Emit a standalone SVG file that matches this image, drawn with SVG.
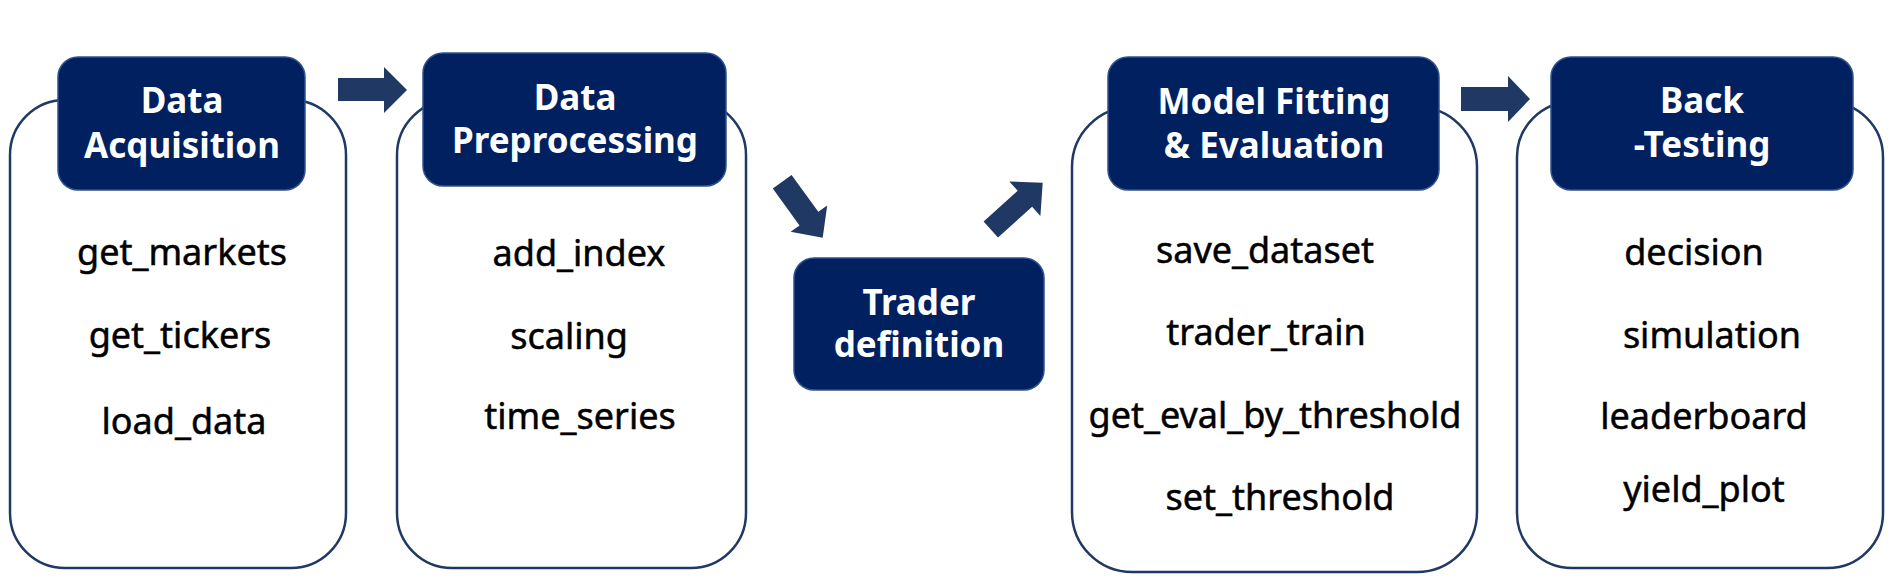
<svg xmlns="http://www.w3.org/2000/svg" width="1895" height="578" viewBox="0 0 1895 578">
<style>
.outer{fill:#ffffff;stroke:#1f3864;stroke-width:2.5}
.head{fill:#002060;stroke:#2f528f;stroke-width:1.5}
.ht{font-family:"Noto Sans","Liberation Sans",sans-serif;font-weight:bold;font-size:35px;fill:#ffffff;text-anchor:middle}
.bt{font-family:"Noto Sans","Liberation Sans",sans-serif;font-size:36px;fill:#000000;stroke:#000000;stroke-width:0.5;text-anchor:middle}
.arrow{fill:#203864}
</style>
<rect width="1895" height="578" fill="#ffffff"/>
<g id="connectors">
<polygon class="arrow" points="338,78 384,78 384,67 407,90 384,113 384,101 338,101"/>
<polygon class="arrow" points="791.6,174.9 818.3,211.8 827.2,205.4 822.7,237.7 790.6,231.8 799.5,225.4 772.8,188.5"/>
<polygon class="arrow" points="983.6,221.5 1017.7,190.7 1009.3,181.5 1042.7,182.7 1040.4,215.9 1032.1,206.7 998,237.5"/>
<polygon class="arrow" points="1461,87 1508,87 1508,76 1530,99 1508,122 1508,111 1461,111"/>
</g>
<g id="data-acquisition">
<rect class="outer" x="10" y="100" width="336" height="468" rx="55"/>
<rect class="head" x="58" y="57" width="247" height="133" rx="20"/>
<text class="ht" x="182" y="113">Data</text>
<text class="ht" x="182" y="158">Acquisition</text>
<text class="bt" x="182" y="265">get_markets</text>
<text class="bt" x="180" y="348">get_tickers</text>
<text class="bt" x="184" y="434">load_data</text>
</g>
<g id="data-preprocessing">
<rect class="outer" x="397" y="100" width="349" height="468" rx="55"/>
<rect class="head" x="423" y="53" width="303" height="133" rx="20"/>
<text class="ht" x="575" y="110">Data</text>
<text class="ht" x="575" y="153">Preprocessing</text>
<text class="bt" x="579" y="266">add_index</text>
<text class="bt" x="569" y="349">scaling</text>
<text class="bt" x="580" y="429">time_series</text>
</g>
<g id="trader-definition">
<rect class="head" x="794" y="258" width="250" height="132" rx="20"/>
<text class="ht" x="919" y="315">Trader</text>
<text class="ht" x="919" y="357">definition</text>
</g>
<g id="model-fitting">
<rect class="outer" x="1072" y="107" width="405" height="465" rx="60"/>
<rect class="head" x="1108" y="57" width="331" height="133" rx="20"/>
<text class="ht" x="1274" y="114">Model Fitting</text>
<text class="ht" x="1274" y="158">&amp; Evaluation</text>
<text class="bt" x="1265" y="263">save_dataset</text>
<text class="bt" x="1266" y="345">trader_train</text>
<text class="bt" x="1275" y="428">get_eval_by_threshold</text>
<text class="bt" x="1280" y="510">set_threshold</text>
</g>
<g id="back-testing">
<rect class="outer" x="1517" y="102" width="366" height="466" rx="55"/>
<rect class="head" x="1551" y="57" width="302" height="133" rx="20"/>
<text class="ht" x="1702" y="113">Back</text>
<text class="ht" x="1702" y="157">-Testing</text>
<text class="bt" x="1694" y="265">decision</text>
<text class="bt" x="1712" y="348">simulation</text>
<text class="bt" x="1704" y="429">leaderboard</text>
<text class="bt" x="1704" y="502">yield_plot</text>
</g>
</svg>
